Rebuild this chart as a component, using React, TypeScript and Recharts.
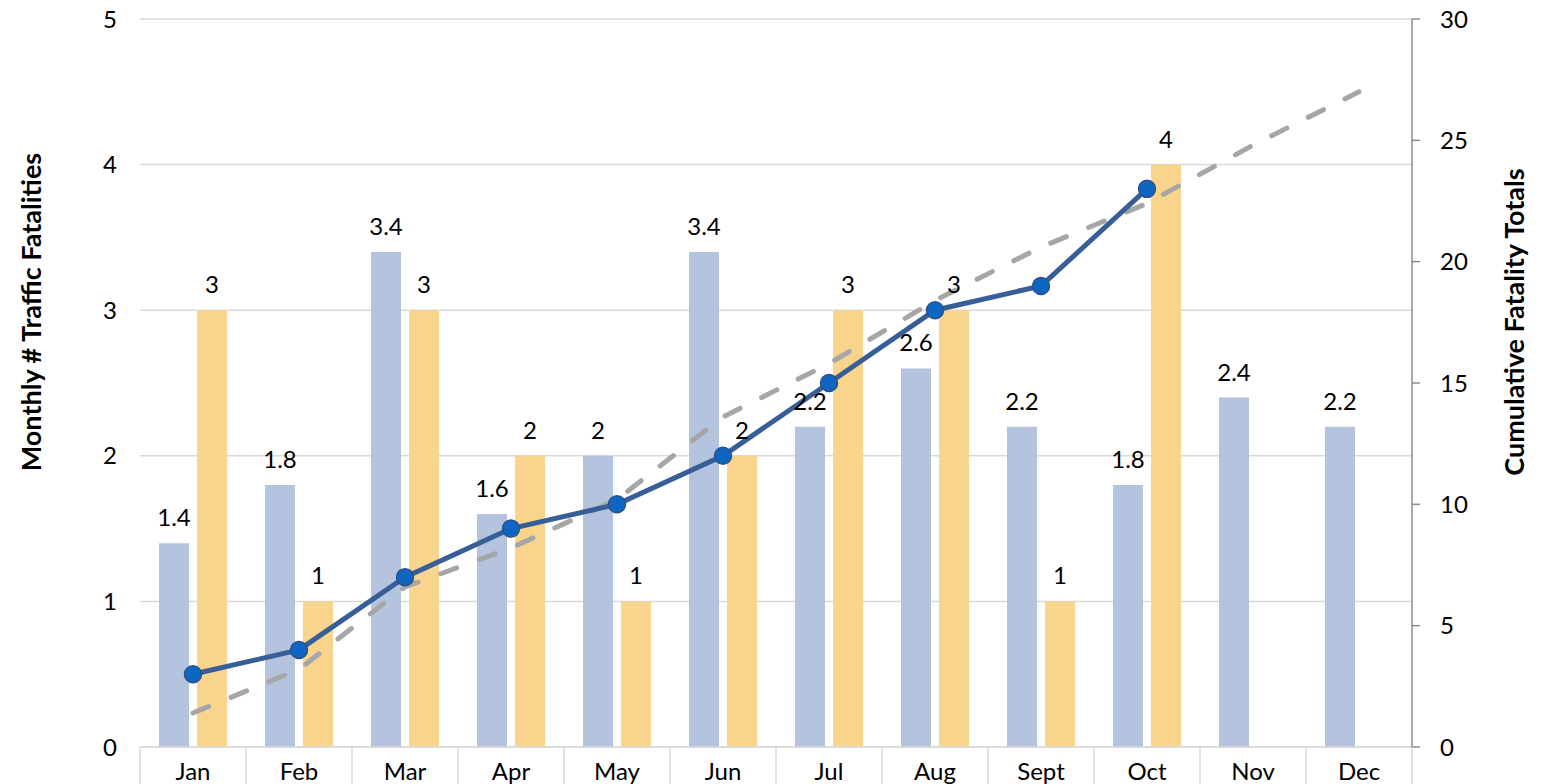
import React from 'react';
import { ComposedChart, Bar, Line, XAxis, YAxis, CartesianGrid, LabelList } from 'recharts';

const months = ['Jan', 'Feb', 'Mar', 'Apr', 'May', 'Jun', 'Jul', 'Aug', 'Sept', 'Oct', 'Nov', 'Dec'];
const monthlyAverage = [1.4, 1.8, 3.4, 1.6, 2, 3.4, 2.2, 2.6, 2.2, 1.8, 2.4, 2.2];
const monthlyCurrent: (number | null)[] = [3, 1, 3, 2, 1, 2, 3, 3, 1, 4, null, null];
const cumulativeCurrent: (number | null)[] = [3, 4, 7, 9, 10, 12, 15, 18, 19, 23, null, null];
const cumulativeAverage = [1.4, 3.2, 6.6, 8.2, 10.2, 13.6, 15.8, 18.4, 20.6, 22.4, 24.8, 27.0];
const leftTicks = [0, 1, 2, 3, 4, 5];
const rightTicks = [0, 5, 10, 15, 20, 25, 30];

const leftTitle = 'Monthly # Traffic Fatalities';
const rightTitle = 'Cumulative Fatality Totals';

const data = months.map((m, i) => ({
  month: m,
  avg: monthlyAverage[i],
  current: monthlyCurrent[i],
  cumCurrent: cumulativeCurrent[i],
  cumAvg: cumulativeAverage[i],
}));

const W = 1545;
const H = 784;
const LEFT_AXIS_W = 140;
const RIGHT_AXIS_W = 133;
const TOP = 19;
const X_AXIS_H = 37;
const PLOT_W = W - LEFT_AXIS_W - RIGHT_AXIS_W;
const FONT = 'Lato, "Open Sans", "DejaVu Sans", sans-serif';

const MonthTick = (props: any) => {
  const { x, y, payload, index } = props;
  const band = PLOT_W / months.length;
  const left = x - band / 2;
  return (
    <g>
      <line x1={left} y1={y} x2={left} y2={y + X_AXIS_H} stroke="#D9D9D9" strokeWidth={1.5} />
      {index === months.length - 1 && (
        <line x1={left + band} y1={y} x2={left + band} y2={y + X_AXIS_H} stroke="#D9D9D9" strokeWidth={1.5} />
      )}
      <text x={x} y={y + 23} textAnchor="middle" dominantBaseline="central" fontSize={24} fill="#000" fontFamily={FONT}>
        {payload.value}
      </text>
    </g>
  );
};

const leftTitleContent = (p: any) => {
  const vb = p.viewBox || { x: 0, y: TOP, width: LEFT_AXIS_W, height: 728 };
  const cx = vb.x + 30;
  const cy = vb.y + vb.height / 2 - 71;
  return (
    <text
      transform={`translate(${cx}, ${cy}) rotate(-90)`}
      textAnchor="middle"
      dominantBaseline="central"
      fontSize={27}
      fontWeight="bold"
      fill="#000"
      fontFamily={FONT}
    >
      {leftTitle}
    </text>
  );
};

const rightTitleContent = (p: any) => {
  const vb = p.viewBox || { x: W - RIGHT_AXIS_W, y: TOP, width: RIGHT_AXIS_W, height: 728 };
  const cx = vb.x + 101;
  const cy = vb.y + vb.height / 2 - 61;
  return (
    <text
      transform={`translate(${cx}, ${cy}) rotate(-90)`}
      textAnchor="middle"
      dominantBaseline="central"
      fontSize={27}
      fontWeight="bold"
      fill="#000"
      fontFamily={FONT}
    >
      {rightTitle}
    </text>
  );
};

export default function App() {
  return (
    <div style={{ width: W, height: H, margin: '-8px 0 0 -8px' }}>
      <ComposedChart
        width={W}
        height={H}
        data={data}
        margin={{ top: TOP, right: 0, bottom: 0, left: 0 }}
        barSize={30}
        barGap={8}
        style={{ fontFamily: FONT }}
      >
        <CartesianGrid yAxisId="left" vertical={false} stroke="#D9D9D9" strokeWidth={1.5} />
        <XAxis
          dataKey="month"
          height={X_AXIS_H}
          interval={0}
          tickLine={false}
          tickSize={0}
          tickMargin={0}
          axisLine={{ stroke: '#D9D9D9', strokeWidth: 1.5 }}
          tick={<MonthTick />}
        />
        <YAxis
          yAxisId="left"
          orientation="left"
          width={LEFT_AXIS_W}
          domain={[0, 5]}
          ticks={leftTicks}
          axisLine={false}
          tickLine={false}
          tickSize={0}
          tickMargin={23}
          tick={{ fontSize: 24, fill: '#000', fontFamily: FONT }}
          label={{ content: leftTitleContent }}
        />
        <YAxis
          yAxisId="right"
          orientation="right"
          width={RIGHT_AXIS_W}
          domain={[0, 30]}
          ticks={rightTicks}
          axisLine={{ stroke: '#8C8C8C', strokeWidth: 1.5 }}
          tickLine={{ stroke: '#8C8C8C', strokeWidth: 1.5 }}
          tickSize={8}
          tickMargin={20}
          tick={{ fontSize: 24, fill: '#000', fontFamily: FONT }}
          label={{ content: rightTitleContent }}
        />
        <Bar yAxisId="left" dataKey="avg" fill="#B4C4DF" isAnimationActive={false}>
          <LabelList dataKey="avg" position="top" offset={17} fontSize={24} fill="#000" fontFamily={FONT} />
        </Bar>
        <Bar yAxisId="left" dataKey="current" fill="#F9D48C" isAnimationActive={false}>
          <LabelList dataKey="current" position="top" offset={17} fontSize={24} fill="#000" fontFamily={FONT} />
        </Bar>
        <Line
          yAxisId="right"
          dataKey="cumAvg"
          stroke="#A6A6A6"
          strokeWidth={5}
          strokeDasharray="17 24"
          strokeLinecap="round"
          dot={false}
          activeDot={false}
          isAnimationActive={false}
        />
        <Line
          yAxisId="right"
          dataKey="cumCurrent"
          stroke="#375E97"
          strokeWidth={5}
          dot={{ r: 8.5, fill: '#0F66C2', stroke: '#2B5287', strokeWidth: 1.5 }}
          activeDot={false}
          isAnimationActive={false}
        />
      </ComposedChart>
    </div>
  );
}
